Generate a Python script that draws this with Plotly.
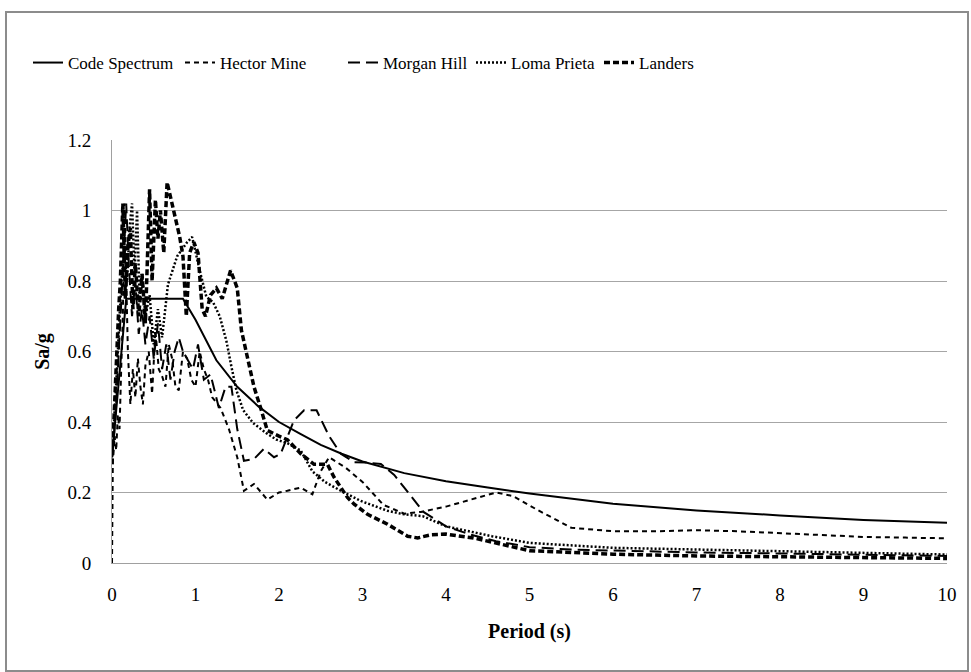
import plotly.graph_objects as go

# ---------------- data ----------------
code_T = [0, 0.17, 0.85, 1.0, 1.25, 1.5, 1.75, 2.0, 2.25, 2.5, 2.75, 3.0, 3.5, 4.0, 4.5, 5, 6, 7, 8, 9, 10]
code_Sa = [0.30, 0.75, 0.75, 0.69, 0.575, 0.50, 0.445, 0.40, 0.367, 0.335, 0.31, 0.288, 0.255, 0.232, 0.214,
           0.197, 0.168, 0.149, 0.135, 0.122, 0.114]

hector_T = [0, 0.01, 0.03, 0.05, 0.07, 0.09, 0.11, 0.13, 0.15, 0.17, 0.19, 0.22, 0.25, 0.28, 0.31, 0.34, 0.37,
            0.4, 0.44, 0.48, 0.52, 0.56, 0.6, 0.64, 0.68, 0.72, 0.76, 0.8, 0.85, 0.9, 0.95, 1.0, 1.05, 1.1,
            1.15, 1.2, 1.3, 1.4, 1.5, 1.58, 1.7, 1.86, 2.0, 2.1, 2.26, 2.4, 2.5, 2.6, 2.8, 3.0, 3.25, 3.5,
            3.7, 4.0, 4.3, 4.6, 4.8, 5.1, 5.5, 6, 6.5, 7, 7.5, 8, 8.5, 9, 9.5, 10]
hector_Sa = [0, 0.29, 0.36, 0.32, 0.42, 0.38, 0.55, 0.7, 1.02, 0.8, 0.6, 0.45, 0.55, 0.47, 0.58, 0.5, 0.45,
             0.56, 0.6, 0.48, 0.66, 0.55, 0.53, 0.5, 0.62, 0.58, 0.5, 0.49, 0.6, 0.58, 0.52, 0.5, 0.6, 0.55,
             0.52, 0.47, 0.44, 0.38, 0.3, 0.205, 0.224, 0.18, 0.2, 0.205, 0.214, 0.195, 0.26, 0.3, 0.27, 0.23,
             0.165, 0.14, 0.145, 0.16, 0.18, 0.2, 0.19, 0.15, 0.1, 0.09, 0.09, 0.093, 0.09, 0.085, 0.08, 0.074,
             0.072, 0.07]

morgan_T = [0, 0.02, 0.05, 0.08, 0.1, 0.13, 0.17, 0.2, 0.24, 0.28, 0.32, 0.36, 0.4, 0.45, 0.5, 0.55, 0.6,
            0.65, 0.7, 0.75, 0.8, 0.85, 0.9, 0.97, 1.03, 1.1, 1.18, 1.28, 1.36, 1.43, 1.5, 1.58, 1.7, 1.82,
            1.94, 2.02, 2.18, 2.3, 2.45, 2.6, 2.74, 2.9, 3.05, 3.22, 3.38, 3.55, 3.73, 4.0, 4.3, 4.6, 5.0,
            5.5, 6, 7, 8, 9, 10]
morgan_Sa = [0.3, 0.35, 0.45, 0.6, 0.7, 0.85, 1.02, 0.85, 0.7, 0.8, 0.65, 0.72, 0.62, 0.7, 0.58, 0.68, 0.55,
             0.62, 0.52, 0.6, 0.64, 0.6, 0.58, 0.55, 0.62, 0.52, 0.535, 0.44, 0.5, 0.5, 0.38, 0.29, 0.295,
             0.324, 0.3, 0.31, 0.405, 0.433, 0.433, 0.36, 0.31, 0.286, 0.285, 0.281, 0.25, 0.2, 0.145, 0.104,
             0.08, 0.062, 0.045, 0.038, 0.035, 0.03, 0.027, 0.023, 0.02]

loma_T = [0, 0.03, 0.06, 0.09, 0.12, 0.15, 0.18, 0.21, 0.24, 0.27, 0.3, 0.33, 0.36, 0.4, 0.45, 0.5, 0.55,
          0.6, 0.67, 0.78, 0.9, 0.96, 1.01, 1.05, 1.13, 1.21, 1.29, 1.37, 1.43, 1.49, 1.57, 1.69, 1.85, 1.97,
          2.1, 2.26, 2.4, 2.55, 2.74, 2.98, 3.3, 3.5, 3.72, 4.0, 4.55, 5, 6, 7, 8, 9, 10]
loma_Sa = [0.3, 0.42, 0.55, 0.7, 0.82, 0.9, 0.8, 0.95, 1.02, 0.82, 1.0, 0.75, 0.82, 0.7, 0.76, 0.62, 0.72,
           0.64, 0.79, 0.87, 0.91, 0.925, 0.87, 0.83, 0.755, 0.74, 0.70, 0.63, 0.557, 0.49, 0.434, 0.397,
           0.368, 0.35, 0.34, 0.319, 0.26, 0.23, 0.205, 0.176, 0.148, 0.138, 0.133, 0.104, 0.076, 0.057,
           0.043, 0.038, 0.033, 0.028, 0.024]

landers_T = [0, 0.02, 0.05, 0.08, 0.1, 0.13, 0.16, 0.19, 0.22, 0.25, 0.28, 0.32, 0.36, 0.4, 0.45, 0.48, 0.52,
             0.55, 0.58, 0.62, 0.66, 0.71, 0.77, 0.81, 0.85, 0.87, 0.89, 0.93, 0.98, 1.03, 1.08, 1.12, 1.18,
             1.25, 1.32, 1.42, 1.5, 1.55, 1.62, 1.7, 1.78, 1.86, 2.0, 2.1, 2.26, 2.42, 2.58, 2.66, 2.82, 2.9,
             3.06, 3.3, 3.54, 3.66, 3.82, 4.0, 4.33, 4.76, 5, 5.5, 6, 7, 8, 9, 10]
landers_Sa = [0.28, 0.4, 0.55, 0.72, 0.8, 1.02, 0.75, 0.9, 0.95, 0.72, 0.85, 0.7, 0.82, 0.68, 1.06, 0.8, 1.03,
              0.92, 1.0, 0.88, 1.08, 1.03, 0.97, 0.926, 0.87, 0.8, 0.7, 0.88, 0.91, 0.88, 0.72, 0.7, 0.76,
              0.78, 0.75, 0.83, 0.78, 0.66, 0.58, 0.5, 0.44, 0.376, 0.36, 0.35, 0.31, 0.28, 0.28, 0.243,
              0.186, 0.167, 0.138, 0.11, 0.076, 0.071, 0.08, 0.082, 0.071, 0.047, 0.035, 0.03, 0.025, 0.02,
              0.018, 0.015, 0.013]

x_ticks = [0, 1, 2, 3, 4, 5, 6, 7, 8, 9, 10]
y_ticks = [0, 0.2, 0.4, 0.6, 0.8, 1, 1.2]
x_title = "Period (s)"
y_title = "Sa/g"

# ---------------- figure ----------------
FONT = "Liberation Serif"
W, H = 971, 672
L, R, T, B = 112, 24, 140, 109

series = [
    ("Code Spectrum", code_T, code_Sa, dict(color="black", width=2, dash="solid"), "legend", 28),
    ("Hector Mine", hector_T, hector_Sa, dict(color="black", width=2, dash="5px,4px"), "legend2", 180),
    ("Morgan Hill", morgan_T, morgan_Sa, dict(color="black", width=2, dash="12px,6px"), "legend3", 343),
    ("Loma Prieta", loma_T, loma_Sa, dict(color="black", width=2.5, dash="2px,2px"), "legend4", 471),
    ("Landers", landers_T, landers_Sa, dict(color="black", width=3.5, dash="6px,3px"), "legend5", 599),
]

fig = go.Figure()
for name, xs, ys, line, leg, _ in series:
    fig.add_trace(go.Scatter(x=xs, y=ys, mode="lines", name=name, line=line, legend=leg))

legend_y = 1 - 63 / H
legends = {}
for i, (name, _, _, _, leg, px) in enumerate(series):
    legends[leg] = dict(
        x=px / W, xref="container", xanchor="left",
        y=legend_y, yref="container", yanchor="middle",
        orientation="h", bgcolor="rgba(0,0,0,0)", borderwidth=0,
        font=dict(family=FONT, size=17, color="black"),
    )

fig.update_layout(
    width=W, height=H,
    margin=dict(l=L, r=R, t=T, b=B),
    paper_bgcolor="white", plot_bgcolor="white",
    showlegend=True,
    font=dict(family=FONT, size=19, color="black"),
    **legends,
    xaxis=dict(
        range=[0, 10], tickvals=x_ticks, showgrid=False, zeroline=False,
        showline=True, linecolor="#a0a0a0", linewidth=1,
        ticks="outside", ticklen=14, tickcolor="rgba(0,0,0,0)",
        tickfont=dict(family=FONT, size=19, color="black"),
        title=dict(text="<b>" + x_title + "</b>", standoff=20,
                   font=dict(family=FONT, size=20, color="black")),
    ),
    yaxis=dict(
        range=[0, 1.2], tickvals=y_ticks, showgrid=True, gridcolor="#a6a6a6", gridwidth=1,
        zeroline=False, showline=True, linecolor="#a0a0a0", linewidth=1,
        ticks="outside", ticklen=16, tickcolor="rgba(0,0,0,0)",
        tickfont=dict(family=FONT, size=19, color="black"),
        title=dict(text="<b>" + y_title + "</b>", standoff=12,
                   font=dict(family=FONT, size=20, color="black")),
    ),
)

# outer chart border (gray frame around the whole chart)
pw, ph = W - L - R, H - T - B
fig.add_shape(type="rect", xref="paper", yref="paper",
              x0=(6 - L) / pw, x1=(968 - L) / pw,
              y0=(H - B - 671) / ph, y1=(H - B - 12) / ph,
              line=dict(color="#8c8c8c", width=2), fillcolor="rgba(0,0,0,0)", layer="below")

fig.write_html("out.html")
